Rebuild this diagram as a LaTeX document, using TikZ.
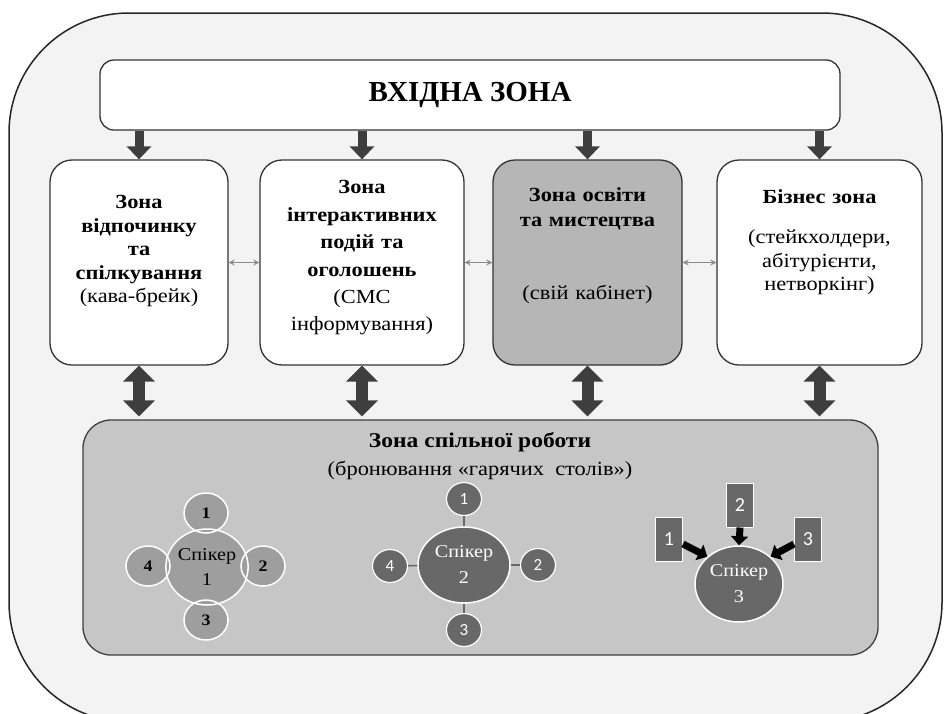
\documentclass[tikz,border=0pt]{standalone}
\usepackage{fontspec}
\setmainfont{Liberation Serif}[FakeStretch=1.12]
\newfontfamily\entryfont{Liberation Serif}
\newfontfamily\numfont{Carlito}
\usepackage{xcolor}
\usepackage{tikz}
\usetikzlibrary{shapes.geometric}
\usetikzlibrary{arrows.meta}
\definecolor{framefill}{HTML}{F3F3F3}
\definecolor{zonegray}{HTML}{B6B6B6}
\definecolor{workgray}{HTML}{C6C6C6}
\definecolor{arrowgray}{HTML}{3E3E3E}
\definecolor{linkgray}{HTML}{8C8C8C}
\definecolor{seatgray}{HTML}{9E9E9E}
\definecolor{darkseat}{HTML}{686868}
\tikzset{
frame/.style={draw=black!85,line width=1.5pt,rounded corners=120pt,fill=framefill},
entry/.style={
  draw=black!80,line width=1.3pt,rounded corners=14pt,fill=white,
  minimum width=740pt,minimum height=70pt,
  font=\entryfont\bfseries\fontsize{29}{33}\selectfont
},
zone/.style={draw=black!80,line width=1.3pt,rounded corners=22pt,minimum height=205pt,fill=white},
zonetext/.style={anchor=north,inner sep=0pt,align=center,text width=#1},
zonetext/.default=180pt,
work/.style={
  draw=black!75,line width=1.3pt,rounded corners=28pt,fill=workgray,
  minimum width=795pt,minimum height=235pt
},
down/.style={draw=arrowgray,line width=9pt,-{Triangle[length=13pt,width=24pt]}},
both/.style={draw=arrowgray,line width=12pt,{Triangle[length=16pt,width=31pt]}-{Triangle[length=16pt,width=31pt]}},
link/.style={draw=linkgray,line width=1pt,{Stealth[length=6pt,width=6pt]}-{Stealth[length=6pt,width=6pt]}},
seat 1/.style={ellipse,inner sep=0pt,fill=seatgray,minimum width=44pt,minimum height=40pt,
  font=\bfseries\fontsize{16}{16}\selectfont},
speaker 1/.style={ellipse,inner sep=0pt,fill=seatgray,draw=white,line width=1.5pt,
  minimum width=82pt,minimum height=76pt,align=center,font=\fontsize{18}{25}\selectfont},
ring/.style={draw=white,line width=1.5pt},
seat 2/.style={ellipse,inner sep=0pt,fill=darkseat,draw=white,line width=1.2pt,
  minimum width=35pt,minimum height=33pt,text=white,font=\numfont\fontsize{17}{17}\selectfont},
speaker 2/.style={ellipse,inner sep=0pt,fill=darkseat,draw=white,line width=1.5pt,
  minimum width=92pt,minimum height=76pt,align=center,text=white,font=\fontsize{18}{26}\selectfont},
tie/.style={draw=darkseat,line width=1.5pt},
desk/.style={rectangle,inner sep=0pt,fill=darkseat,draw=white,line width=1pt,
  minimum width=27pt,minimum height=44pt,text=white,font=\numfont\fontsize{20}{20}\selectfont},
speaker 3/.style={ellipse,inner sep=0pt,fill=darkseat,draw=white,line width=1.5pt,
  minimum width=88pt,minimum height=76pt,align=center,text=white,font=\fontsize{18}{26}\selectfont},
push/.style={draw=black,line width=7pt,-{Triangle[length=9pt,width=17pt]}}
}

\begin{document}
\begin{tikzpicture}[x=1pt,y=-1pt]
\useasboundingbox (0,0) rectangle (944,713);
% the frame
\draw[frame] (9,13) rectangle (942,722);
% the entry zone
\node[entry] (entry) at (470,95) {ВХІДНА ЗОНА};
% the four zones
\node[zone,minimum width=178pt] (zone-1) at (139,262.5) {};
\node[zone,minimum width=204pt] (zone-2) at (362,262.5) {};
\node[zone,minimum width=189pt,fill=zonegray] (zone-3) at (587.5,262.5) {};
\node[zone,minimum width=205pt] (zone-4) at (819.5,262.5) {};
\node[zonetext,font=\fontsize{20}{23.5}\selectfont] (zone-1-text) at ([yshift=-36pt]zone-1.north)
  {\textbf{Зона\\відпочинку\\та\\спілкування}\\(кава-брейк)};
\node[zonetext=200pt,font=\fontsize{20}{27.4}\selectfont] (zone-2-text) at ([yshift=-21pt]zone-2.north)
  {\textbf{Зона\\інтерактивних\\подій та\\оголошень}\\(СМС\\інформування)};
\node[zonetext,font=\fontsize{20}{25}\selectfont] (zone-3-text) at ([yshift=-28pt]zone-3.north)
  {\textbf{Зона освіти\\та мистецтва}\\[48pt](свій кабінет)};
\node[zonetext=200pt,font=\fontsize{20}{23.5}\selectfont] (zone-4-text) at ([yshift=-30pt]zone-4.north)
  {\textbf{Бізнес зона}\\[17pt](стейкхолдери,\\абітурієнти,\\нетворкінг)};
% the shared work zone
\node[work] (work) at (480.5,537.5) {};
\node[font=\bfseries\fontsize{21}{21}\selectfont] (work-title) at (480,442) {Зона спільної роботи};
\node[font=\fontsize{20}{20}\selectfont] (work-sub) at (480,470) {(бронювання «гарячих\ \ столів»)};
% the arrows
\foreach \i in {1,...,4}
{
  \draw[down] (entry.south -| zone-\i.north) -- (zone-\i.north);
  \draw[both,shorten >=3pt] (zone-\i.south) -- (zone-\i.south |- work.north);
}
\foreach \i/\j in {1/2,2/3,3/4}
  \draw[link] (zone-\i.east) -- (zone-\j.west);
% speaker 1
\foreach \i/\x/\y in {1/206/513,2/263/566,3/206/620,4/148/566}
  \node[seat 1] (seat-1-\i) at (\x,\y) {\i};
\node[speaker 1] (speaker-1) at (207,567) {Спікер\\1};
\foreach \i in {1,...,4}
  \draw[ring] (seat-1-\i.center) ellipse [x radius=22,y radius=20];
% speaker 2
\node[speaker 2] (speaker-2) at (464,565) {Спікер\\2};
\foreach \i/\x/\y in {1/464/499,2/538/565,3/464/630,4/390/566}
{
  \node[seat 2] (seat-2-\i) at (\x,\y) {\i};
  \draw[tie] (seat-2-\i) -- (speaker-2);
}
% speaker 3
\node[speaker 3] (speaker-3) at (739,584) {Спікер\\3};
\foreach \i/\x/\y in {1/669/539,2/740/505,3/808/539}
  \node[desk] (desk-\i) at (\x,\y) {\i};
\draw[push] ([yshift=-5pt]desk-1.east) -- (speaker-3.north west);
\draw[push] (desk-2.south) -- (speaker-3.north);
\draw[push] ([yshift=-5pt]desk-3.west) -- (speaker-3.north east);
\end{tikzpicture}
\end{document}
